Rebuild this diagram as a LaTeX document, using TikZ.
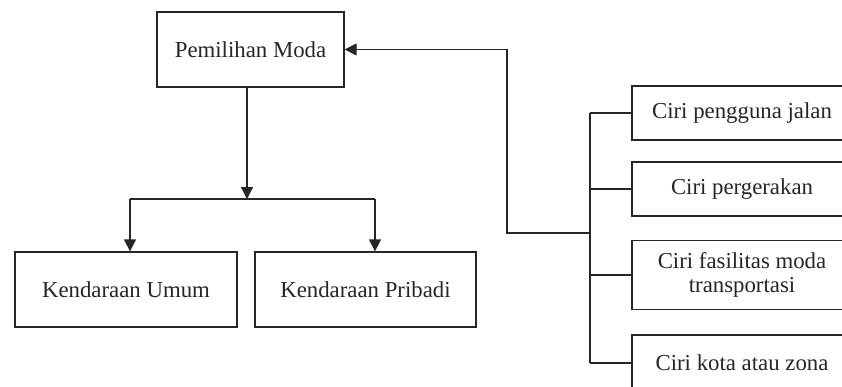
\documentclass[tikz,border=0pt]{standalone}
\usepackage{fontspec}
\setmainfont{Liberation Serif}
\usetikzlibrary{arrows.meta}
\begin{document}
\begin{tikzpicture}[x=1pt,y=-1pt,
  box/.style={draw=black!85,line width=1.3pt,rectangle,inner sep=0pt,align=center,
    font=\fontsize{22.8}{26}\selectfont,text=black!85},
  conn/.style={draw=black!85,line width=1.3pt},
  arr/.style={conn,-{Triangle[width=12pt,length=12pt]}}]
\useasboundingbox[fill=white] (0,0) rectangle (842,386);
\node[box,minimum width=187pt,minimum height=75pt] (pm) at (250.5,49.5) {Pemilihan Moda};
\node[box,minimum width=222pt,minimum height=75pt] (ku) at (126,289.5) {Kendaraan Umum};
\node[box,minimum width=221pt,minimum height=75pt] (kp) at (365.5,289.5) {Kendaraan Pribadi};
\node[box,minimum width=220pt,minimum height=54pt] (r1) at (742,113) {Ciri pengguna jalan};
\node[box,minimum width=220pt,minimum height=54pt] (r2) at (742,189) {Ciri pergerakan};
\node[box,minimum width=220pt,minimum height=69pt] (r3) at (742,275) {Ciri fasilitas moda\\[-2pt]transportasi};
\node[box,minimum width=220pt,minimum height=56pt] (r4) at (742,363) {Ciri kota atau zona};
% downward tree
\coordinate (j1) at (247,199);
\coordinate (bl) at (130,199);
\coordinate (br) at (375,199);
\draw[arr] (pm.south -| j1) -- (j1);
\draw[conn] (bl) -- (br);
\draw[arr] (bl) -- (bl |- ku.north);
\draw[arr] (br) -- (br |- kp.north);
% bracket of factors
\coordinate (bt) at (590,113);
\coordinate (bb) at (590,363);
\coordinate (bm) at (590,233);
\coordinate (fb) at (507,233);
\draw[conn] (bt) -- (bb);
\draw[conn] (bt) -- (r1.west);
\draw[conn] (bt |- r2.west) -- (r2.west);
\draw[conn] (bt |- r3.west) -- (r3.west);
\draw[conn] (bb) -- (r4.west);
\draw[arr] (bm) -- (fb) -- (fb |- pm.east) -- (pm.east);
\end{tikzpicture}
\end{document}
